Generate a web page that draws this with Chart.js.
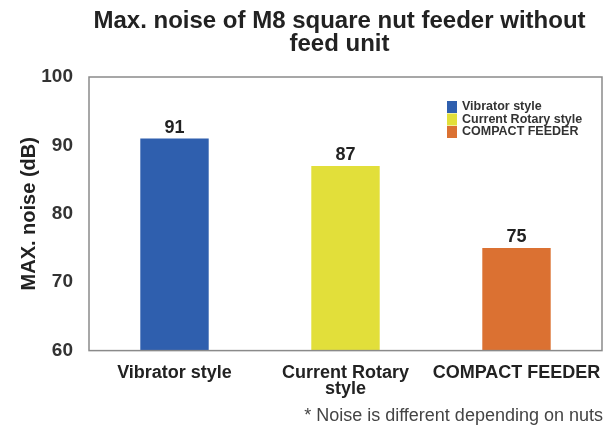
<!DOCTYPE html>
<html>
<head>
<meta charset="utf-8">
<script src="https://cdn.jsdelivr.net/npm/chart.js@4/dist/chart.umd.min.js"></script>
<style>
  html, body { margin: 0; padding: 0; background: #fff; }
  #wrap { width: 614px; height: 430px; }
</style>
</head>
<body>
<div id="wrap"><canvas id="noiseChart"></canvas></div>
<script>
// chart data
const categories = ["Vibrator style", ["Current Rotary", "style"], "COMPACT FEEDER"];
const legendLabels = ["Vibrator style", "Current Rotary style", "COMPACT FEEDER"];
const noiseValues = [91, 87, 75];
const barColors = ["#2f5fae", "#e2df3a", "#db7132"];
const yTicks = [60, 70, 80, 90, 100];
const titleLines = ["Max. noise of M8 square nut feeder without", "feed unit"];
const footnote = "* Noise is different depending on nuts";

const FONT = "'Liberation Sans', Arial, sans-serif";

// title, frame, value labels, legend inside plot, footnote
const extras = {
  id: "extras",
  afterDraw(chart) {
    const ctx = chart.ctx;
    const area = chart.chartArea;
    ctx.save();

    // title centred over the plot
    ctx.fillStyle = "#222";
    ctx.font = "bold 24px " + FONT;
    ctx.textAlign = "center";
    ctx.textBaseline = "middle";
    const cx = (area.left + area.right) / 2;
    titleLines.forEach((t, i) => ctx.fillText(t, cx - 6, 21 + i * 23));

    // frame
    ctx.strokeStyle = "#8a8a8a";
    ctx.lineWidth = 1.5;
    ctx.strokeRect(area.left, area.top, area.right - area.left, area.bottom - area.top);

    // value labels
    ctx.fillStyle = "#222";
    ctx.font = "bold 18px " + FONT;
    ctx.textBaseline = "bottom";
    chart.getDatasetMeta(0).data.forEach((bar, i) => {
      ctx.fillText(String(noiseValues[i]), bar.x, bar.y - 2);
    });

    // legend
    ctx.font = "bold 12.5px " + FONT;
    ctx.textAlign = "left";
    ctx.textBaseline = "middle";
    const lx = area.right - 155;
    let ly = area.top + 30;
    legendLabels.forEach((lab, i) => {
      ctx.fillStyle = barColors[i];
      ctx.fillRect(lx, ly - 6, 10, 12);
      ctx.fillStyle = "#333";
      ctx.fillText(lab, lx + 15, ly);
      ly += 12.5;
    });

    // footnote
    ctx.fillStyle = "#444";
    ctx.font = "18px " + FONT;
    ctx.textAlign = "right";
    ctx.fillText(footnote, area.right + 1, 416);
    ctx.restore();
  }
};

new Chart(document.getElementById("noiseChart"), {
  type: "bar",
  data: {
    labels: categories,
    datasets: [{
      data: noiseValues,
      backgroundColor: barColors,
      borderWidth: 0,
      barPercentage: 0.4,
      categoryPercentage: 1.0
    }]
  },
  options: {
    responsive: true,
    maintainAspectRatio: false,
    animation: false,
    layout: { padding: { left: 0, right: 12, top: 77, bottom: 27 } },
    scales: {
      y: {
        min: 60,
        max: 100,
        afterBuildTicks(axis) { axis.ticks = yTicks.map(v => ({ value: v })); },
        afterFit(axis) { axis.width = 89; },
        grid: { display: false },
        border: { display: false },
        ticks: { color: "#333", padding: 8, font: { family: FONT, size: 19, weight: "bold" } },
        title: {
          display: true,
          text: "MAX. noise (dB)",
          color: "#222",
          padding: { top: 17, bottom: 2 },
          font: { family: FONT, size: 20, weight: "bold" }
        }
      },
      x: {
        grid: { display: false },
        border: { display: false },
        ticks: {
          color: "#222",
          padding: 6,
          maxRotation: 0,
          autoSkip: false,
          font: { family: FONT, size: 18, weight: "bold", lineHeight: 0.9 }
        }
      }
    },
    plugins: {
      legend: { display: false },
      tooltip: { enabled: false },
      title: { display: false }
    }
  },
  plugins: [extras]
});
</script>
</body>
</html>
